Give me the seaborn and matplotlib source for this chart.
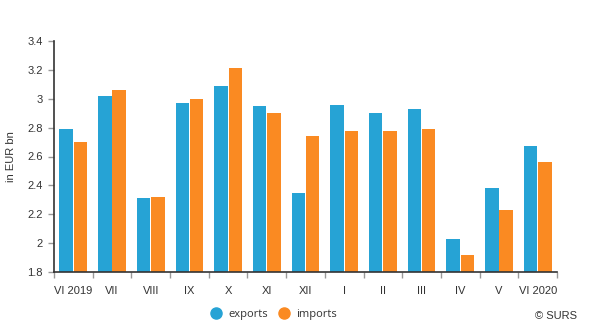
import matplotlib
matplotlib.use("Agg")
import matplotlib.pyplot as plt
import seaborn as sns
import pandas as pd
import numpy as np
from matplotlib.lines import Line2D

months = ["VI 2019", "VII", "VIII", "IX", "X", "XI", "XII", "I", "II", "III", "IV", "V", "VI 2020"]
exports = [2.79, 3.02, 2.31, 2.97, 3.09, 2.95, 2.35, 2.96, 2.90, 2.93, 2.03, 2.38, 2.67]
imports = [2.70, 3.06, 2.32, 3.00, 3.21, 2.90, 2.74, 2.78, 2.78, 2.79, 1.92, 2.23, 2.56]
series = ["exports", "imports"]
colors = ["#26A3D5", "#FA8A22"]

df = pd.DataFrame({
    "month": months * 2,
    "value": exports + imports,
    "series": [series[0]] * len(months) + [series[1]] * len(months),
})

sns.set_style("white")
plt.rcParams['font.family'] = ['Liberation Sans', 'DejaVu Sans']

fig = plt.figure(figsize=(5.93, 3.30), dpi=100)
ax = fig.add_axes([54/593, 1 - 272/330, (557-54)/593, (272-41)/330])

sns.barplot(data=df, x="month", y="value", hue="series", palette=colors,
            width=0.74, gap=0.06, ax=ax, legend=False, saturation=1,
            edgecolor="none", linewidth=0)

ax.set_ylim(1.8, 3.4)
ax.set_xlim(-0.5, len(months) - 0.5)
yt = [1.8, 2.0, 2.2, 2.4, 2.6, 2.8, 3.0, 3.2, 3.4]
ax.set_yticks(yt)
ax.set_yticklabels(["1.8", "2", "2.2", "2.4", "2.6", "2.8", "3", "3.2", "3.4"])
ax.set_xticks(range(len(months)))
ax.set_xticklabels(months)
ax.set_xticks(np.arange(-0.5, len(months), 1.0), minor=True)
ax.tick_params(axis="x", which="major", length=0, pad=10, labelsize=8, colors="#333333")
ax.tick_params(axis="x", which="minor", length=4, width=1, color="#999999", direction="out", bottom=True)
ax.tick_params(axis="y", which="major", length=4, width=1, color="#999999", direction="out", left=True,
               labelsize=8, labelcolor="#333333", pad=4)

for s in ["top", "right"]:
    ax.spines[s].set_visible(False)
ax.spines["left"].set_color("#333333")
ax.spines["bottom"].set_color("#333333")
ax.spines["left"].set_linewidth(1.2)
ax.spines["bottom"].set_linewidth(1.2)

ax.set_xlabel("")
ax.set_ylabel("in EUR bn", fontsize=8, color="#333333", labelpad=8)

handles = [Line2D([0], [0], marker="o", linestyle="none", markersize=8,
                  markerfacecolor=c, markeredgecolor=c) for c in colors]
leg = fig.legend(handles, series, loc="center", bbox_to_anchor=(271/593, 1 - 314/330),
                 ncol=2, frameon=False, handletextpad=0.1, columnspacing=0.4,
                 labelcolor="#333333", prop={"family": "Open Sans", "size": 8})
fig.text(577/593, 1 - 316/330, "© SURS", ha="right", va="center", fontsize=8, color="#333333")

fig.savefig("out.png", dpi=100)
